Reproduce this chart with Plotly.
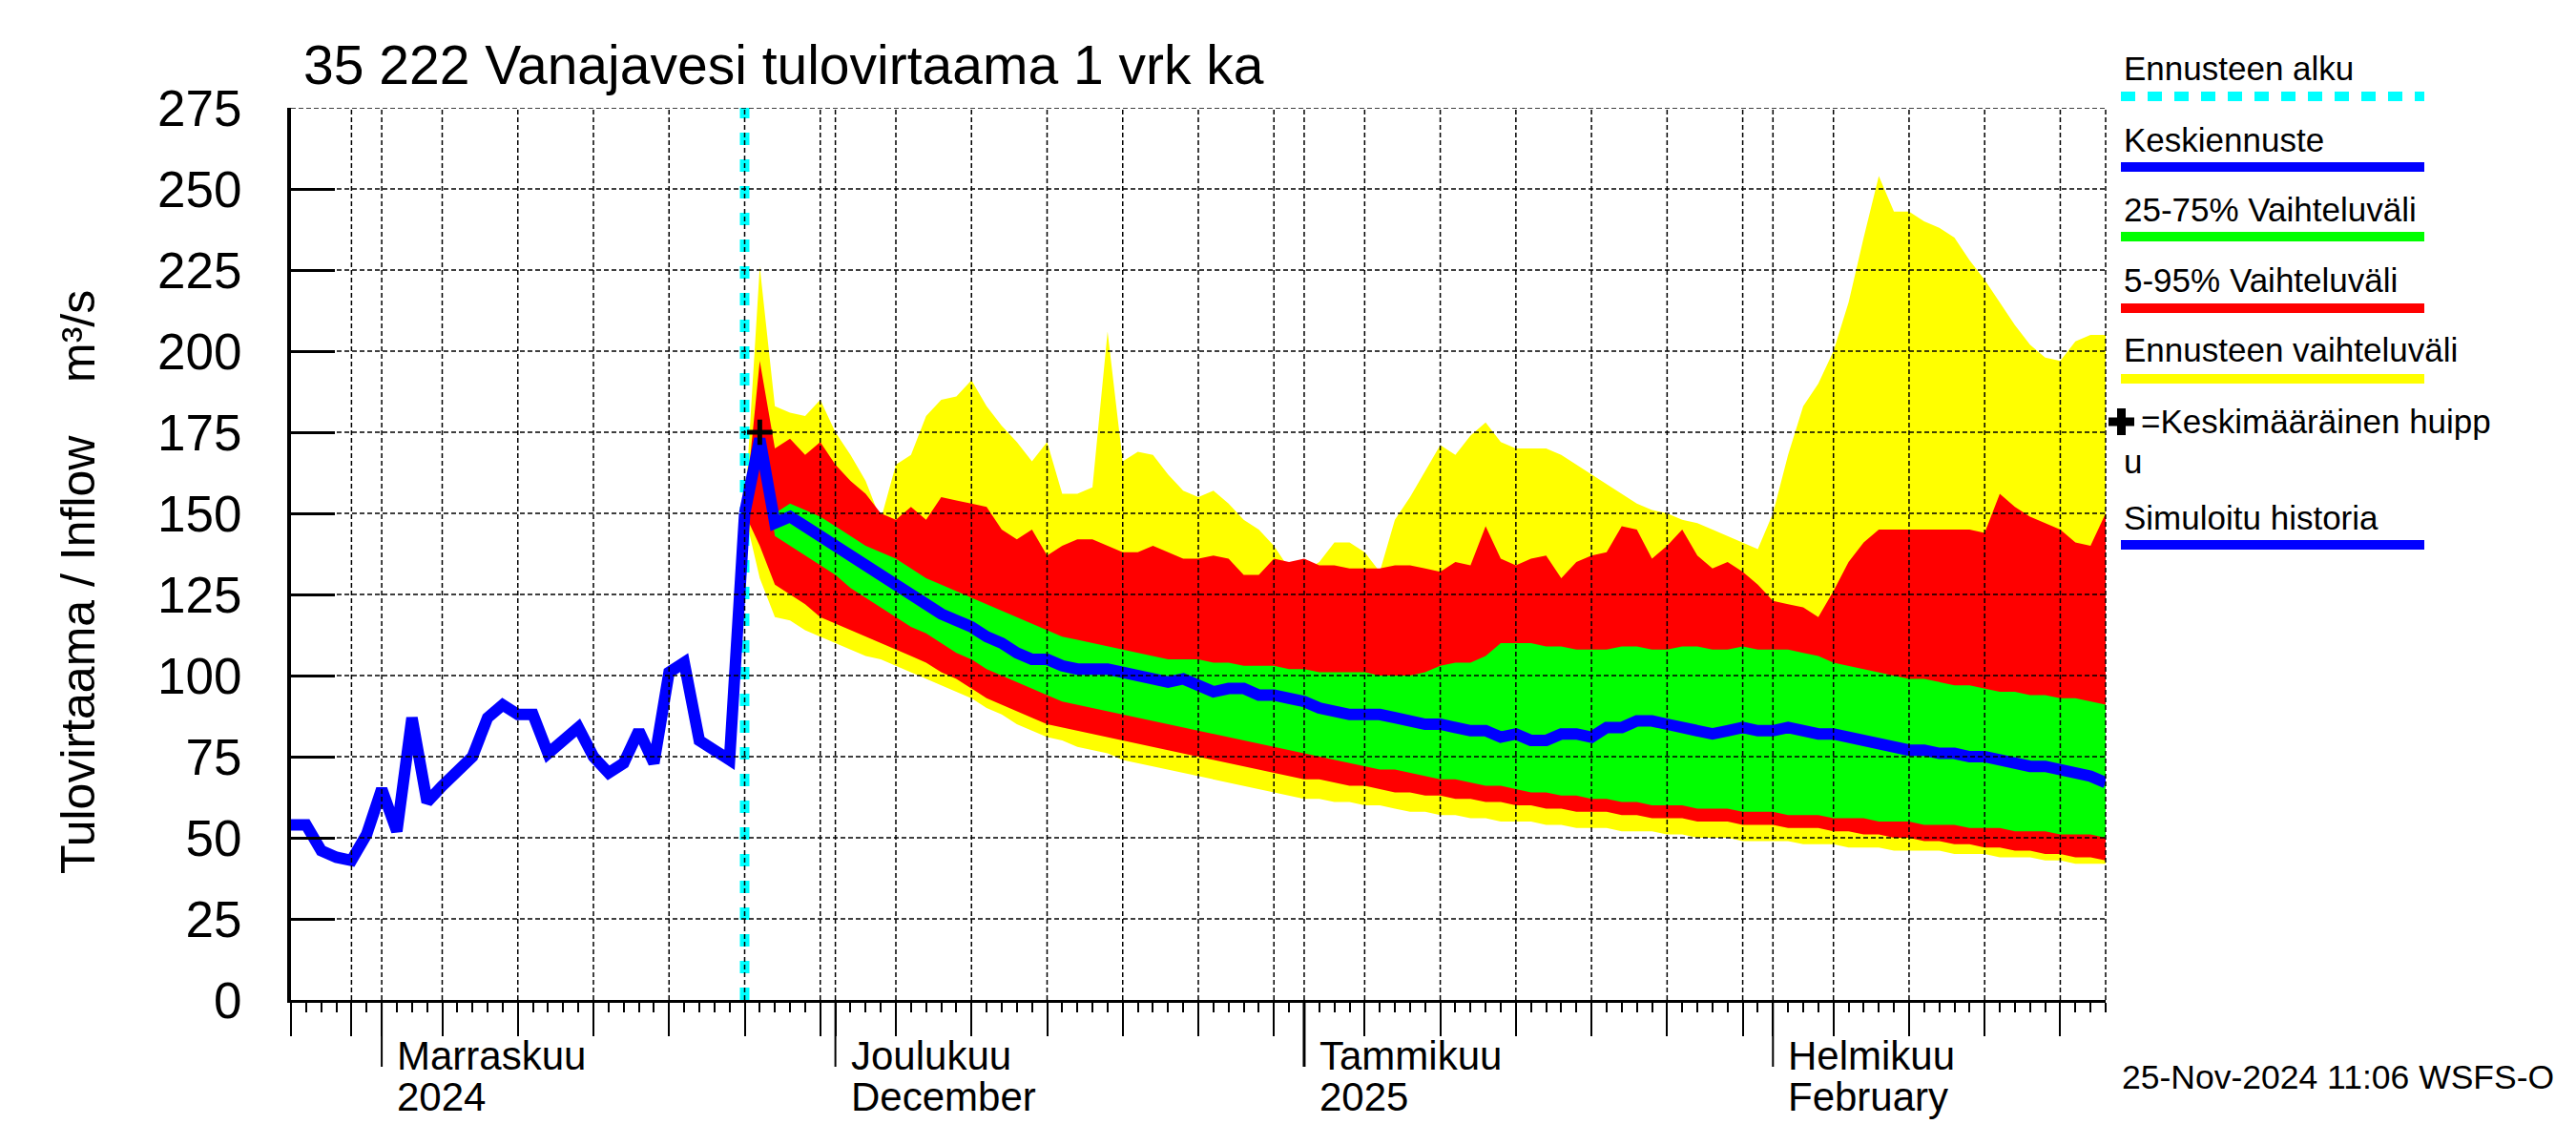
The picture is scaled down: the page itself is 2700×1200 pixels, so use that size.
import plotly.graph_objects as go
import pandas as pd

# ---------------- data ----------------
title_text = "35 222 Vanajavesi tulovirtaama 1 vrk ka"
y_title = "Tulovirtaama / Inflow    m³/s"
stamp_text = "25-Nov-2024 11:06 WSFS-O"

x_start = "2024-10-26"
x_end = "2025-02-23"

hist_start = "2024-10-26"
history_flow = [54, 54, 46, 44, 43, 51, 65, 52, 87, 61,
                66, 70, 75, 87, 91, 88, 88, 76, 80, 84,
                75, 70, 73, 83, 73, 101, 104, 80, 77, 74,
                150]

forecast_start = "2024-11-25"
fc_mean = [150, 173, 147, 149, 146, 143, 140, 136, 133, 131,
           128, 125, 122, 119, 117, 115, 112, 110, 107, 105,
           105, 103, 102, 102, 102, 101, 100, 99, 98, 99,
           97, 95, 96, 96, 94, 94, 93, 92, 90, 89,
           88, 88, 88, 87, 86, 85, 85, 84, 83, 83,
           81, 82, 80, 80, 82, 82, 81, 84, 84, 86,
           86, 85, 84, 83, 82, 83, 84, 83, 83, 84,
           83, 82, 82, 81, 80, 79, 78, 77, 77, 76,
           76, 75, 75, 74, 73, 72, 72, 71, 70, 69,
           67]
fc_p75 = [150, 173, 150, 153, 151, 149, 146, 143, 140, 138,
          136, 133, 130, 128, 126, 124, 122, 120, 118, 116,
          114, 112, 111, 110, 109, 108, 107, 106, 105, 105,
          105, 104, 104, 103, 103, 103, 102, 102, 101, 101,
          101, 101, 100, 100, 100, 101, 103, 104, 104, 106,
          110, 110, 110, 109, 109, 108, 108, 108, 109, 109,
          108, 108, 109, 109, 108, 108, 109, 108, 108, 108,
          107, 106, 104, 103, 102, 101, 100, 99, 99, 98,
          97, 97, 96, 95, 95, 94, 94, 93, 93, 92,
          91]
fc_p25 = [150, 173, 143, 140, 137, 134, 131, 127, 124, 121,
          118, 115, 113, 110, 107, 105, 102, 100, 98, 96,
          94, 92, 91, 90, 89, 88, 87, 86, 85, 84,
          83, 82, 81, 80, 79, 78, 77, 76, 75, 74,
          73, 72, 71, 71, 70, 69, 68, 68, 67, 66,
          66, 65, 64, 64, 63, 63, 62, 62, 61, 61,
          60, 60, 60, 59, 59, 59, 58, 58, 58, 57,
          57, 57, 56, 56, 56, 55, 55, 55, 54, 54,
          54, 53, 53, 53, 52, 52, 52, 51, 51, 51,
          50]
fc_p95 = [150, 197, 170, 173, 168, 172, 165, 160, 156, 150,
          148, 152, 148, 155, 154, 153, 152, 145, 142, 145,
          137, 140, 142, 142, 140, 138, 138, 140, 138, 136,
          136, 137, 136, 131, 131, 136, 135, 136, 134, 134,
          133, 133, 133, 134, 134, 133, 132, 135, 134, 146,
          136, 134, 136, 137, 130, 135, 137, 138, 146, 145,
          136, 140, 145, 137, 133, 135, 132, 128, 123, 122,
          121, 118, 126, 135, 141, 145, 145, 145, 145, 145,
          145, 145, 144, 156, 152, 149, 147, 145, 141, 140,
          150]
fc_p5 = [150, 140, 128, 125, 122, 118, 116, 114, 112, 110,
         108, 106, 104, 101, 99, 96, 93, 91, 89, 87,
         85, 84, 83, 82, 81, 80, 79, 78, 77, 76,
         75, 74, 73, 72, 71, 70, 69, 68, 68, 67,
         66, 66, 65, 64, 64, 63, 63, 62, 62, 61,
         61, 60, 60, 59, 59, 58, 58, 58, 57, 57,
         56, 56, 56, 55, 55, 55, 54, 54, 54, 53,
         53, 53, 52, 52, 51, 51, 50, 50, 49, 49,
         48, 48, 47, 47, 46, 46, 45, 45, 44, 44,
         43]
fc_min = [150, 130, 118, 117, 114, 112, 110, 108, 106, 105,
          103, 101, 99, 97, 95, 93, 90, 88, 85, 83,
          81, 80, 78, 77, 76, 74, 73, 72, 71, 70,
          69, 68, 67, 66, 65, 64, 63, 62, 62, 61,
          61, 60, 60, 59, 58, 58, 57, 57, 56, 56,
          55, 55, 55, 54, 54, 53, 53, 53, 52, 52,
          52, 51, 51, 50, 50, 50, 49, 49, 49, 49,
          48, 48, 48, 47, 47, 47, 46, 46, 46, 46,
          45, 45, 45, 44, 44, 44, 43, 43, 42, 42,
          42]
fc_max = [150, 226, 183, 181, 180, 185, 175, 168, 160, 148,
          165, 168, 180, 185, 186, 191, 183, 177, 172, 166,
          172, 156, 156, 158, 206, 166, 169, 168, 162, 157,
          155, 157, 153, 148, 145, 140, 133, 132, 135, 141,
          141, 138, 132, 148, 155, 163, 171, 168, 174, 178,
          172, 170, 170, 170, 168, 165, 162, 159, 156, 153,
          151, 150, 148, 147, 145, 143, 141, 139, 150, 168,
          183, 190, 200, 215, 235, 254, 243, 243, 240, 238,
          235, 228, 222, 215, 208, 202, 198, 197, 203, 205,
          205]

peak_date = "2024-11-26"
peak_value = 175

y_ticks = list(range(0, 276, 25))
month_starts = ["2024-11-01", "2024-12-01", "2025-01-01", "2025-02-01"]
month_line1 = ["Marraskuu", "Joulukuu", "Tammikuu", "Helmikuu"]
month_line2 = ["2024", "December", "2025", "February"]

legend_texts = ["Ennusteen alku", "Keskiennuste", "25-75% Vaihteluväli",
                "5-95% Vaihteluväli", "Ennusteen vaihteluväli",
                "=Keskimääräinen huipp", "Simuloitu historia"]

# ---------------- styling / geometry ----------------
FONT = "Liberation Sans, Arial, Helvetica, sans-serif"
OFF = 8                      # page body margin of the browser
W, H = 2700 - OFF, 1200 - OFF
PL, PR, PT, PB = 305, 2207, 113, 1048   # plot area in page pixels
BLUE, GREEN, RED, YELLOW, CYAN = "#0000FF", "#00FF00", "#FF0000", "#FFFF00", "#00FFFF"


def px_x(X):
    return (X - PL) / (PR - PL)


def px_y(Y):
    return (PB - Y) / (PB - PT)


hist_dates = pd.date_range(hist_start, periods=len(history_flow), freq="D")
fc_dates = pd.date_range(forecast_start, periods=len(fc_mean), freq="D")
fc_x = list(fc_dates)

fig = go.Figure()


def band(upper, lower, color):
    fig.add_trace(go.Scatter(
        x=fc_x + fc_x[::-1], y=list(upper) + list(lower)[::-1],
        fill="toself", fillcolor=color, mode="lines",
        line=dict(width=0, color=color), showlegend=False, hoverinfo="skip"))


band(fc_max, fc_min, YELLOW)
band(fc_p95, fc_p5, RED)
band(fc_p75, fc_p25, GREEN)

# forecast start line
fig.add_trace(go.Scatter(
    x=[forecast_start, forecast_start], y=[0, 275], mode="lines",
    line=dict(color=CYAN, width=10, dash="13px,15px"),
    showlegend=False, hoverinfo="skip"))

fig.add_trace(go.Scatter(x=list(hist_dates), y=history_flow, mode="lines",
                         line=dict(color=BLUE, width=12), showlegend=False))
fig.add_trace(go.Scatter(x=fc_x, y=fc_mean, mode="lines",
                         line=dict(color=BLUE, width=12), showlegend=False))
fig.add_trace(go.Scatter(x=[peak_date], y=[peak_value], mode="markers",
                         marker=dict(symbol="cross-thin", size=19, color="black",
                                     line=dict(width=5, color="black")),
                         showlegend=False))

# ---------------- grid (drawn above the data) ----------------
all_days = pd.date_range(x_start, x_end, freq="D")
grid_days = [d for d in all_days if d.day in (1, 5, 10, 15, 20, 25, 30)
             and d != all_days[0] and d != all_days[-1]]
shapes = []
for d in grid_days:
    shapes.append(dict(type="line", xref="x", yref="paper", x0=d, x1=d, y0=0, y1=1,
                       line=dict(color="black", width=1.5, dash="5px,3px"), layer="above"))
for v in y_ticks[1:]:
    shapes.append(dict(type="line", xref="paper", yref="y", x0=0, x1=1, y0=v, y1=v,
                       line=dict(color="black", width=1.5, dash="5px,3px"), layer="above"))
shapes.append(dict(type="line", xref="paper", yref="paper", x0=1, x1=1, y0=0, y1=1,
                   line=dict(color="black", width=1.5, dash="5px,3px"), layer="above"))
# month ticks below the axis
for i, m in enumerate(month_starts):
    shapes.append(dict(type="line", xref="x", yref="paper", x0=m, x1=m,
                       y0=0, y1=-70 / (PB - PT),
                       line=dict(color="black", width=3 if i == 2 else 2)))

# ---------------- legend (custom) ----------------
LX0, LX1 = 2223, 2541
leg_line_y = [101, 175, 248, 323, 397, None, 571]
leg_colors = [CYAN, BLUE, GREEN, RED, YELLOW, None, BLUE]
leg_text_y = [72, 146, 220, 293, 366, 441, 542]
annotations = []
for i, txt in enumerate(legend_texts):
    tx = 2242 if i == 5 else 2224
    annotations.append(dict(text=txt, xref="paper", yref="paper", x=px_x(tx), y=px_y(leg_text_y[i]),
                            xanchor="left", yanchor="middle", showarrow=False,
                            font=dict(family=FONT, size=35, color="black")))
    if leg_line_y[i] is not None:
        shapes.append(dict(type="line", xref="paper", yref="paper",
                           x0=px_x(LX0), x1=px_x(LX1), y0=px_y(leg_line_y[i]), y1=px_y(leg_line_y[i]),
                           line=dict(color=leg_colors[i], width=10,
                                     dash="15px,13px" if i == 0 else "solid")))
annotations.append(dict(text="u", xref="paper", yref="paper", x=px_x(2224), y=px_y(483),
                        xanchor="left", yanchor="middle", showarrow=False,
                        font=dict(family=FONT, size=35, color="black")))
# plus sign of legend
shapes.append(dict(type="rect", xref="paper", yref="paper", x0=px_x(2210), x1=px_x(2237),
                   y0=px_y(437.5), y1=px_y(446.5), fillcolor="black", line=dict(width=0)))
shapes.append(dict(type="rect", xref="paper", yref="paper", x0=px_x(2219), x1=px_x(2228),
                   y0=px_y(428), y1=px_y(456), fillcolor="black", line=dict(width=0)))

# ---------------- texts ----------------
annotations.append(dict(text=title_text, xref="paper", yref="paper", x=px_x(316), y=px_y(68),
                        xanchor="left", yanchor="middle", showarrow=False,
                        font=dict(family=FONT, size=57, color="black")))
annotations.append(dict(text=y_title, xref="paper", yref="paper", x=px_x(82), y=px_y(610),
                        xanchor="center", yanchor="middle", textangle=-90, showarrow=False,
                        font=dict(family=FONT, size=50, color="black")))
annotations.append(dict(text=stamp_text, xref="paper", yref="paper", x=px_x(2222), y=px_y(1129),
                        xanchor="left", yanchor="middle", showarrow=False,
                        font=dict(family=FONT, size=35.5, color="black")))
for m, l1, l2 in zip(month_starts, month_line1, month_line2):
    annotations.append(dict(text=l1, xref="x", yref="paper", x=m, xshift=14, y=px_y(1106),
                            xanchor="left", yanchor="middle", showarrow=False,
                            font=dict(family=FONT, size=42, color="black")))
    annotations.append(dict(text=l2, xref="x", yref="paper", x=m, xshift=14, y=px_y(1149),
                            xanchor="left", yanchor="middle", showarrow=False,
                            font=dict(family=FONT, size=42, color="black")))

fig.update_layout(
    width=W, height=H,
    margin=dict(l=PL - OFF, r=(W + OFF) - PR, t=PT - OFF, b=(H + OFF) - PB, pad=0),
    paper_bgcolor="white", plot_bgcolor="white",
    showlegend=False,
    font=dict(family=FONT, color="black"),
    shapes=shapes, annotations=annotations,
    xaxis=dict(type="date", range=[x_start, x_end], showgrid=False, zeroline=False,
               showline=True, linecolor="black", linewidth=3,
               ticks="outside", tickmode="array", tickvals=grid_days + [pd.Timestamp(x_start)],
               ticklen=35, tickwidth=1.5, tickcolor="black", showticklabels=False,
               minor=dict(ticks="outside", tickmode="array", tickvals=list(all_days),
                          ticklen=10, tickwidth=1.5, tickcolor="black", showgrid=False),
               layer="above traces"),
    yaxis=dict(range=[0, 275], tickmode="array", tickvals=y_ticks, showgrid=False, zeroline=False,
               showline=True, linecolor="black", linewidth=4,
               ticks="inside", ticklen=46, tickwidth=3, tickcolor="black",
               tickfont=dict(family=FONT, size=53, color="black"), ticklabelstandoff=37,
               layer="above traces"),
)

fig.write_html("out.html")
